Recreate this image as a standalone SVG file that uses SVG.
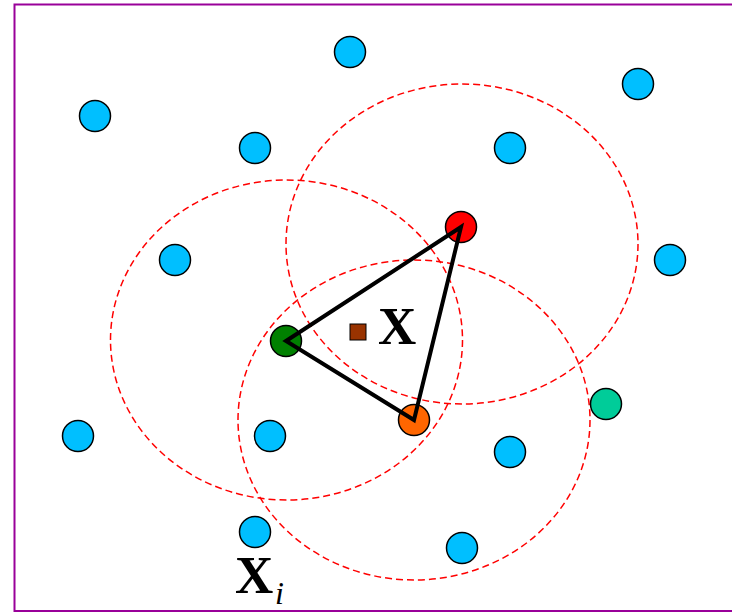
<svg xmlns="http://www.w3.org/2000/svg" width="732" height="613" viewBox="0 0 732 613">
<style>
.pt{stroke:#000;stroke-width:1.5}
.blue{fill:#00BFFF}
.rng{fill:none;stroke:#FF0000;stroke-width:1.5;stroke-dasharray:7,4}
.lbl{font-family:"Liberation Serif","Times New Roman",serif;font-weight:bold;fill:#000}
</style>
<rect x="14.5" y="4.5" width="730" height="606.5" fill="#fff" stroke="#990099" stroke-width="2"/>
<g id="ranges">
<ellipse class="rng" cx="462" cy="244" rx="176" ry="160"/>
<ellipse class="rng" cx="286.5" cy="340" rx="176" ry="160"/>
<ellipse class="rng" cx="414" cy="420" rx="176" ry="160"/>
</g>
<g id="n1"><circle class="pt blue" cx="350" cy="52" r="15.5"/></g>
<g id="n2"><circle class="pt blue" cx="638" cy="84" r="15.5"/></g>
<g id="n3"><circle class="pt blue" cx="95" cy="116" r="15.5"/></g>
<g id="n4"><circle class="pt blue" cx="255" cy="148" r="15.5"/></g>
<g id="n5"><circle class="pt blue" cx="510" cy="148" r="15.5"/></g>
<g id="n6"><circle class="pt blue" cx="175" cy="260" r="15.5"/></g>
<g id="n7"><circle class="pt blue" cx="670" cy="260" r="15.5"/></g>
<g id="n8"><circle class="pt blue" cx="78" cy="436" r="15.5"/></g>
<g id="n9"><circle class="pt blue" cx="270" cy="436" r="15.5"/></g>
<g id="n10"><circle class="pt blue" cx="510" cy="452" r="15.5"/></g>
<g id="n11"><circle class="pt blue" cx="255" cy="532" r="15.5"/></g>
<g id="n12"><circle class="pt blue" cx="462" cy="548" r="15.5"/></g>
<g id="teal"><circle class="pt" fill="#00CC99" cx="606" cy="404" r="15.5"/></g>
<g id="red"><circle class="pt" fill="#FF0000" cx="461" cy="227" r="15.5"/></g>
<g id="green"><circle class="pt" fill="#008000" cx="286" cy="341" r="15.5"/></g>
<g id="orange"><circle class="pt" fill="#FF6600" cx="414" cy="420" r="15.5"/></g>
<g id="connectors">
<polygon points="286,341 461,227 414,420" fill="none" stroke="#000" stroke-width="4" stroke-linejoin="miter"/>
</g>
<g id="target">
<rect x="350" y="324" width="16" height="16" fill="#993300" stroke="#000" stroke-width="1"/>
<text class="lbl" x="378" y="344" font-size="53">X</text>
</g>
<g id="xi">
<text class="lbl" x="235" y="593" font-size="53">X</text>
<text x="275" y="604" font-family="Liberation Serif,'Times New Roman',serif" font-style="italic" font-size="32" fill="#000">i</text>
</g>
</svg>
